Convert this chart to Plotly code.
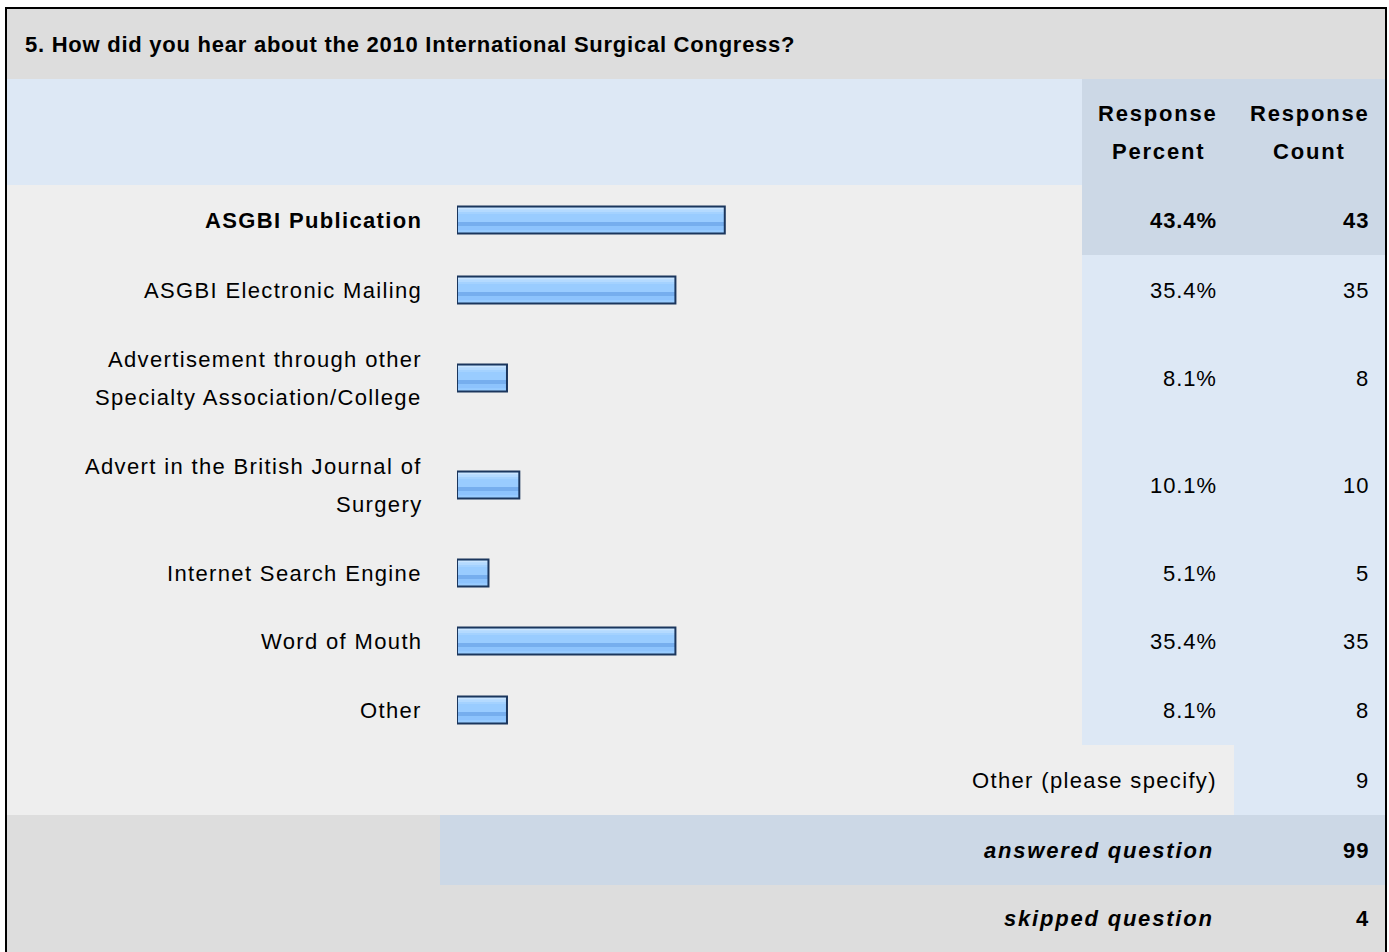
import plotly.graph_objects as go

# ---------------- data ----------------
title = "5. How did you hear about the 2010 International Surgical Congress?"
categories = [
    "ASGBI Publication",
    "ASGBI Electronic Mailing",
    "Advertisement through other<br>Specialty Association/College",
    "Advert in the British Journal of<br>Surgery",
    "Internet Search Engine",
    "Word of Mouth",
    "Other",
]
percents = [43.4, 35.4, 8.1, 10.1, 5.1, 35.4, 8.1]
counts = [43, 35, 8, 10, 5, 35, 8]
header_cols = ["Response<br>Percent", "Response<br>Count"]
other_label = "Other (please specify)"
other_count = 9
summary_labels = ["answered question", "skipped question"]
summary_values = [99, 4]

# ---------------- layout constants ----------------
W, H = 1389, 952
FONT = "Liberation Sans, Arial, Helvetica, sans-serif"
FS = 22
LS = 1.35
LS_TITLE = 0.75
LS_HEAD = 1.8
LS_SUM = 1.8
C_GRAY = "#dddddd"
C_ROW = "#eeeeee"
C_LBLUE = "#dde8f5"
C_DBLUE = "#ccd8e6"
C_TEXT = "#000000"
LEFT, RIGHT = 7, 1385
TOP = 9
TITLE_H = 70
HEAD_H = 106
row_heights = [70, 70, 106, 108, 68, 68, 70]
extra_heights = [70, 70, 67]
PCT_L, CNT_L = 1082, 1234
PCT_R_TXT, CNT_R_TXT = 1218, 1370
LABEL_R = 423
BAR_L = 457
PX_PER_PCT = 6.17
LINE_GAP = 38
BAR_H = 27


def px(x):
    return x / W


shapes = []


def rect(x0, x1, y0, y1, color):
    shapes.append(dict(type="rect", xref="paper", yref="y", x0=px(x0), x1=px(x1),
                       y0=y0, y1=y1, fillcolor=color, line=dict(width=0), layer="below"))


annotations = []


def ann(text, x, y, anchor="right", bold=False, italic=False, ls=LS, size=FS):
    t = f'<span style="letter-spacing:{ls}px">{text}</span>'
    if italic:
        t = f"<i>{t}</i>"
    if bold:
        t = f"<b>{t}</b>"
    annotations.append(dict(text=t, xref="paper", yref="y", x=px(x), y=y,
                            xanchor=anchor, yanchor="middle", showarrow=False,
                            borderpad=0, font=dict(family=FONT, size=size, color=C_TEXT)))


def multiline(text, x, yc, anchor="right", bold=False, ls=LS):
    lines = text.split("<br>")
    n = len(lines)
    for i, ln in enumerate(lines):
        ann(ln, x, yc + (i - (n - 1) / 2) * LINE_GAP, anchor, bold, ls=ls)


# title row
rect(LEFT, RIGHT, TOP, TOP + TITLE_H, C_GRAY)
ann(title, 24, TOP + TITLE_H / 2, anchor="left", bold=True, ls=LS_TITLE)

# header row
h0 = TOP + TITLE_H
h1 = h0 + HEAD_H
rect(LEFT, PCT_L, h0, h1, C_LBLUE)
rect(PCT_L, RIGHT, h0, h1, C_DBLUE)
multiline(header_cols[0], (PCT_L + CNT_L) / 2, (h0 + h1) / 2, anchor="center", bold=True, ls=LS_HEAD)
multiline(header_cols[1], (CNT_L + RIGHT) / 2, (h0 + h1) / 2, anchor="center", bold=True, ls=LS_HEAD)

# data rows
top_idx = counts.index(max(counts))
centers = []
y = h1
for i, (cat, p, c) in enumerate(zip(categories, percents, counts)):
    y0, y1 = y, y + row_heights[i]
    yc = (y0 + y1) / 2
    centers.append(yc)
    rect(LEFT, PCT_L, y0, y1, C_ROW)
    rect(PCT_L, RIGHT, y0, y1, C_DBLUE if i == top_idx else C_LBLUE)
    b = i == top_idx
    multiline(cat, LABEL_R, yc, bold=b)
    ann(f"{p:.1f}%", PCT_R_TXT, yc, bold=b, ls=0.9)
    ann(str(c), CNT_R_TXT, yc, bold=b, ls=0.9)
    y = y1

# other (please specify)
y0, y1 = y, y + extra_heights[0]
rect(LEFT, CNT_L, y0, y1, C_ROW)
rect(CNT_L, RIGHT, y0, y1, C_LBLUE)
ann(other_label, PCT_R_TXT, (y0 + y1) / 2)
ann(str(other_count), CNT_R_TXT, (y0 + y1) / 2, ls=0.9)
y = y1

# answered question
y0, y1 = y, y + extra_heights[1]
rect(LEFT, 440, y0, y1, C_GRAY)
rect(440, RIGHT, y0, y1, C_DBLUE)
ann(summary_labels[0], PCT_R_TXT - 3, (y0 + y1) / 2, bold=True, italic=True, ls=LS_SUM)
ann(str(summary_values[0]), CNT_R_TXT, (y0 + y1) / 2, bold=True, ls=0.9)
y = y1

# skipped question
y0, y1 = y, y + extra_heights[2]
rect(LEFT, RIGHT, y0, y1 + 5, C_GRAY)
ann(summary_labels[1], PCT_R_TXT - 3, (y0 + y1) / 2, bold=True, italic=True, ls=LS_SUM)
ann(str(summary_values[1]), CNT_R_TXT, (y0 + y1) / 2, bold=True, ls=0.9)

# outer border
for (x0, x1, ya, yb) in [(5, 1387, 8, 8), (6, 6, 7, H + 5), (1386, 1386, 7, H + 5)]:
    shapes.append(dict(type="line", xref="paper", yref="y", x0=px(x0), x1=px(x1),
                       y0=ya, y1=yb, line=dict(color="#000000", width=2), layer="above"))

# ---------------- bars ----------------
fig = go.Figure()
fig.add_trace(go.Bar(x=percents, y=centers, orientation="h", width=BAR_H, offset=-BAR_H / 2,
                     marker=dict(color="#99ccff", line=dict(width=0)), hoverinfo="skip"))
stripes = [
    (-12.7, 2.4, "#cae5ff"),
    (-10.3, 2.3, "#b4daff"),
    (-8.0, 2.0, "#a4d2ff"),
    (2.0, 4.3, "#76aeee"),
    (6.3, 4.0, "#8dc3fd"),
]
for off, wd, col in stripes:
    fig.add_trace(go.Bar(x=percents, y=centers, orientation="h", width=wd, offset=off,
                         marker=dict(color=col, line=dict(width=0)), hoverinfo="skip"))
fig.add_trace(go.Bar(x=percents, y=centers, orientation="h", width=BAR_H, offset=-BAR_H / 2,
                     marker=dict(color="rgba(0,0,0,0)", line=dict(color="#1b365d", width=2)),
                     hoverinfo="skip"))

fig.update_layout(
    width=W, height=H,
    margin=dict(l=0, r=0, t=0, b=0),
    paper_bgcolor="#ffffff", plot_bgcolor="rgba(0,0,0,0)",
    barmode="overlay", showlegend=False,
    xaxis=dict(domain=[px(BAR_L), px(BAR_L + PX_PER_PCT * 100)], range=[0, 100],
               visible=False, fixedrange=True),
    yaxis=dict(domain=[0, 1], range=[H, 0], visible=False, fixedrange=True),
    shapes=shapes, annotations=annotations,
)

fig.write_html("out.html", config=dict(displayModeBar=False),
               post_script="document.body.style.margin='0';document.body.style.overflow='hidden';")
